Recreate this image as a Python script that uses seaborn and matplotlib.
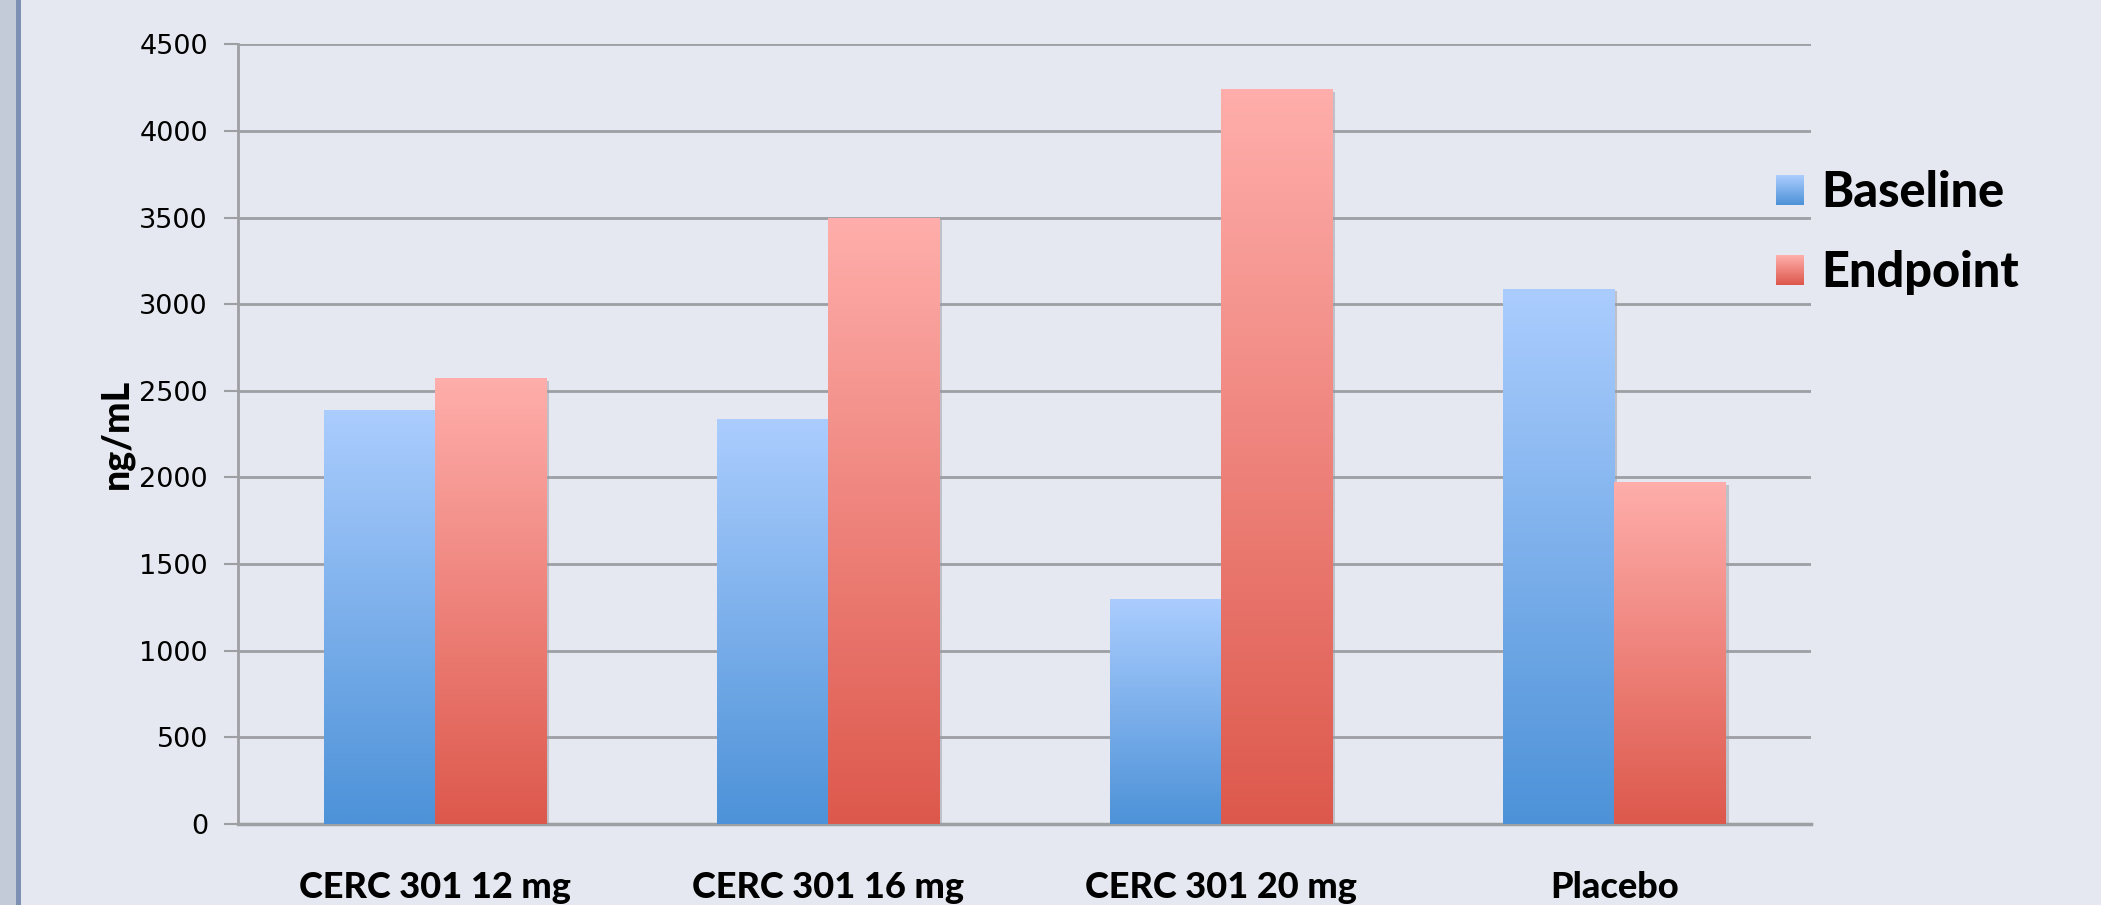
import numpy as np
import pandas as pd
import matplotlib
matplotlib.use("Agg")
import matplotlib.pyplot as plt
import matplotlib.patheffects as pe
from matplotlib.patches import Rectangle, Patch
from matplotlib.colors import LinearSegmentedColormap, to_rgb
import seaborn as sns

categories = ["CERC 301 12 mg", "CERC 301 16 mg", "CERC 301 20 mg", "Placebo"]
baseline = [2390, 2335, 1300, 3090]
endpoint = [2575, 3500, 4240, 1975]
series_names = ["Baseline", "Endpoint"]
y_ticks = [0, 500, 1000, 1500, 2000, 2500, 3000, 3500, 4000, 4500]

df = pd.DataFrame({
    "category": categories * 2,
    "value": baseline + endpoint,
    "series": [series_names[0]] * len(categories) + [series_names[1]] * len(categories),
})

BG = "#e5e8f0"
blue_top, blue_bot = "#abcdfe", "#4d92d8"
red_top, red_bot = "#ffaeab", "#dd584c"

sns.set_theme(style="white")
plt.rcParams["font.family"] = ["DejaVu Sans"]

fig = plt.figure(figsize=(21.01, 9.05), dpi=100, facecolor=BG)
ax = fig.add_axes([0.1135, 0.0895, 0.862 - 0.1135, 0.951 - 0.0895])
ax.set_facecolor(BG)

# left stripe decoration
fig.patches.append(Rectangle((0, 0), 16 / 2101, 1, transform=fig.transFigure,
                             facecolor="#c3cad8", edgecolor="none", zorder=0))
fig.patches.append(Rectangle((16 / 2101, 0), 5 / 2101, 1, transform=fig.transFigure,
                             facecolor="#7d91b4", edgecolor="none", zorder=0))

sns.barplot(data=df, x="category", y="value", hue="series", order=categories,
            hue_order=series_names, palette=["#7fb0ec", "#ef8079"],
            width=0.566, gap=0, dodge=True, ax=ax, errorbar=None, saturation=1,
            legend=False, zorder=3)

cmaps = {
    0: LinearSegmentedColormap.from_list("b", [blue_bot, blue_top]),
    1: LinearSegmentedColormap.from_list("r", [red_bot, red_top]),
}
grad = np.linspace(0, 1, 256).reshape(-1, 1)
n = len(categories)
for i, patch in enumerate(ax.patches[:2 * n]):
    s = i // n
    x0, y0 = patch.get_x(), patch.get_y()
    w, h = patch.get_width(), patch.get_height()
    patch.set_edgecolor("none")
    patch.set_path_effects([pe.SimplePatchShadow(offset=(2, -2), shadow_rgbFace="#9a9ca3", alpha=0.5), pe.Normal()])
    im = ax.imshow(grad, cmap=cmaps[s], extent=(x0, x0 + w, y0, y0 + h),
                   origin="lower", aspect="auto", zorder=3.5, interpolation="bilinear")
    im.set_clip_path(patch)

ax.set_xlim(-0.5, n - 0.5)
ax.set_ylim(0, 4500)
ax.set_yticks(y_ticks)
ax.set_yticklabels([str(t) for t in y_ticks], fontsize=19.5, color="#000000")
ax.yaxis.grid(True, color="#9d9fa3", linewidth=2, zorder=1)
ax.set_axisbelow(True)

ax.set_xticks(range(n))
ax.set_xticklabels(categories, fontsize=26, fontweight="black", color="#000000",
                   family=["Lato", "DejaVu Sans"])
ax.set_xticks(np.arange(-0.5, n, 1.0), minor=True)
ax.tick_params(axis="x", which="major", length=0, pad=34)
ax.tick_params(axis="x", which="minor", length=10, width=1.5, color="#9d9fa3", direction="out")
ax.tick_params(axis="y", which="major", length=10, width=1.5, color="#9d9fa3", direction="out", pad=12, left=True)

for side in ["top", "right"]:
    ax.spines[side].set_visible(False)
ax.spines["left"].set_color("#9d9fa3")
ax.spines["left"].set_linewidth(2)
ax.spines["bottom"].set_color("#9d9fa3")
ax.spines["bottom"].set_linewidth(2.5)

ax.set_xlabel("")
ax.set_ylabel("ng/mL", fontsize=27, fontweight="black", color="#000000",
              family=["Lato", "DejaVu Sans"], labelpad=4)

handles = [Patch(facecolor=blue_top, edgecolor="none"), Patch(facecolor=red_top, edgecolor="none")]
leg = fig.legend(handles, series_names, loc="upper left", bbox_to_anchor=(1776 / 2101, 1 - 170 / 905),
                 frameon=False, borderaxespad=0, borderpad=0,
                 prop={"family": ["Lato", "DejaVu Sans"], "weight": "black", "size": 35},
                 handlelength=0.58, handleheight=0.58, handletextpad=0.35, labelspacing=0.72)
for t in leg.get_texts():
    t.set_color("#000000")

# gradient legend swatches
fig.canvas.draw()
for h, (top, bot) in zip(leg.legend_handles, [(blue_top, blue_bot), (red_top, red_bot)]):
    bb = h.get_window_extent()
    wpx, hpx = int(round(bb.width)), int(round(bb.height))
    t = np.linspace(0, 1, hpx).reshape(-1, 1, 1)
    arr = (1 - t) * np.array(to_rgb(top)) + t * np.array(to_rgb(bot))
    arr = np.repeat(arr, wpx, axis=1)
    fig.figimage(arr[::-1], xo=int(round(bb.x0)), yo=int(round(bb.y0)), origin="lower", zorder=10)

fig.savefig("out.png", dpi=100, facecolor=BG)
